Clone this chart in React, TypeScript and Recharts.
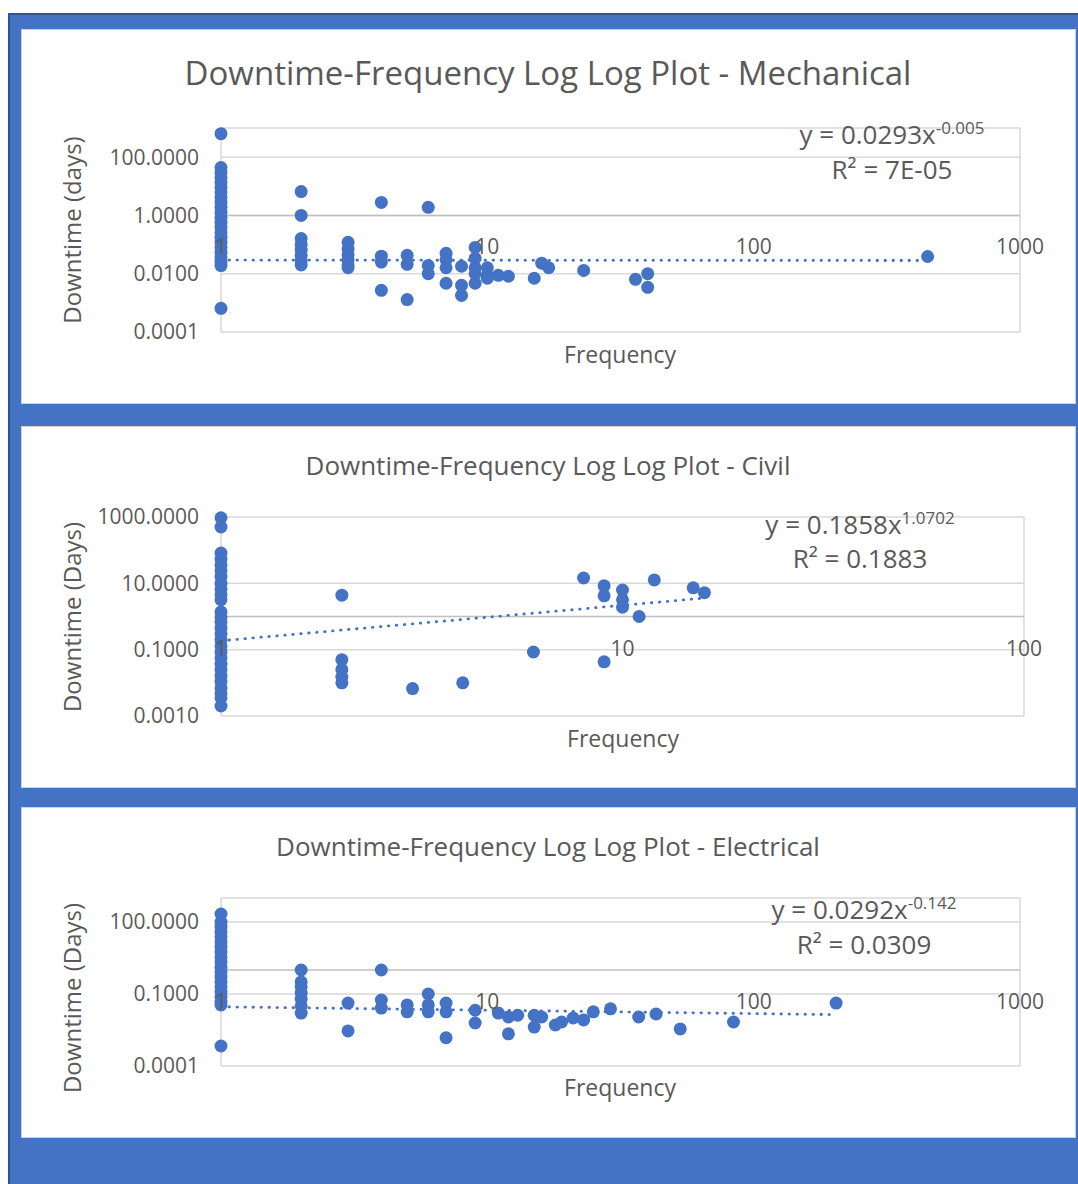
import { ScatterChart, Scatter, XAxis, YAxis, CartesianGrid, ReferenceLine } from 'recharts'

const BLUE = '#4472c4'
const GRID = '#d9d9d9'
const TEXT = '#595959'
const FONT = '"Open Sans", sans-serif'

// downtime readings (days) grouped by frequency
const mechanicalData: [number, number[]][] = [
  [1, [640, 44, 30, 20, 13.5, 9.1, 6.1, 4.1, 2.8, 1.9, 1.27, 0.85, 0.58, 0.39, 0.26, 0.18, 0.12, 0.08, 0.054, 0.036, 0.025, 0.019, 0.00065]],
  [2, [6.6, 1.0, 0.16, 0.1, 0.065, 0.042, 0.028, 0.02]],
  [3, [0.12, 0.07, 0.045, 0.03, 0.02, 0.016]],
  [4, [2.8, 0.04, 0.025, 0.0027]],
  [5, [0.043, 0.021, 0.0013]],
  [6, [1.9, 0.019, 0.01]],
  [7, [0.05, 0.03, 0.016, 0.0047]],
  [8, [0.018, 0.004, 0.0018]],
  [9, [0.08, 0.034, 0.016, 0.01, 0.0047]],
  [10, [0.016, 0.0088, 0.007]],
  [11, [0.0088]],
  [12, [0.0082]],
  [15, [0.007]],
  [16, [0.023]],
  [17, [0.016]],
  [23, [0.013]],
  [36, [0.0064]],
  [40, [0.01, 0.0034]],
  [450, [0.039]],
]
const mechanicalTrend = [{ x: 1, y: 0.0293 }, { x: 450, y: 0.0284 }]
const mechanicalXTicks = [1, 10, 100, 1000]
const mechanicalYTicks = [0.0001, 0.01, 1, 100]

const civilData: [number, number[]][] = [
  [1, [950, 500, 82, 54, 36, 24, 16, 10, 6.8, 4.5, 3.2, 1.37, 0.97, 0.69, 0.45, 0.3, 0.2, 0.13, 0.085, 0.057, 0.037, 0.025, 0.016, 0.011, 0.007, 0.0047, 0.0035, 0.002]],
  [2, [4.4, 0.05, 0.025, 0.015, 0.01]],
  [3, [0.0067]],
  [4, [0.01]],
  [6, [0.085]],
  [8, [14.5]],
  [9, [8.4, 4.2, 0.043]],
  [10, [6.3, 3.2, 1.9]],
  [11, [1.0]],
  [12, [12.7]],
  [15, [7.3]],
  [16, [5.2]],
]
const civilTrend = [{ x: 1, y: 0.1858 }, { x: 16, y: 3.6 }]
const civilXTicks = [1, 10, 100]
const civilYTicks = [0.001, 0.1, 10, 1000]

const electricalData: [number, number[]][] = [
  [1, [215, 100, 62, 38, 24, 15, 9.1, 5.6, 3.5, 2.2, 1.3, 0.83, 0.51, 0.32, 0.2, 0.12, 0.075, 0.046, 0.035, 0.00068]],
  [2, [1.0, 0.32, 0.2, 0.11, 0.062, 0.032, 0.016]],
  [3, [0.042, 0.0029]],
  [4, [1.0, 0.056, 0.026]],
  [5, [0.035, 0.018]],
  [6, [0.1, 0.035, 0.018]],
  [7, [0.042, 0.018, 0.0015]],
  [9, [0.021, 0.0062]],
  [11, [0.016]],
  [12, [0.011, 0.0022]],
  [13, [0.013]],
  [15, [0.013, 0.0042]],
  [16, [0.011]],
  [18, [0.0051]],
  [19, [0.0068]],
  [21, [0.01]],
  [23, [0.0083]],
  [25, [0.018]],
  [29, [0.024]],
  [37, [0.011]],
  [43, [0.0147]],
  [53, [0.0035]],
  [84, [0.0068]],
  [204, [0.042]],
]
const electricalTrend = [{ x: 1, y: 0.0292 }, { x: 200, y: 0.0138 }]
const electricalXTicks = [1, 10, 100, 1000]
const electricalYTicks = [0.0001, 0.1, 100]

const toPoints = (groups: [number, number[]][]) =>
  groups.flatMap(([x, ys]) => ys.map((y) => ({ x, y })))

const Dot = (p: any) => <circle cx={p.cx} cy={p.cy} r={6.5} fill={BLUE} />

const TickText = (p: any) => (
  <text x={p.cx} y={p.cy + 39} textAnchor="middle" fill={TEXT} fontSize={21} fontFamily={FONT}>
    {p.payload?.x}
  </text>
)

function Txt({ x, y, size, rotate, children }: any) {
  return (
    <div
      style={{
        position: 'absolute',
        left: x,
        top: y,
        transform: `translate(-50%, -50%)${rotate ? ' rotate(-90deg)' : ''}`,
        whiteSpace: 'nowrap',
        fontSize: size,
        color: TEXT,
        fontFamily: FONT,
        lineHeight: 1.2,
      }}
    >
      {children}
    </div>
  )
}

function Panel(props: any) {
  const { top, height, plot, data, trend, xTicks, yTicks, yDomain, xDomain } = props
  const tickPoints = xTicks.map((t: number) => ({ x: t, y: 1 }))
  return (
    <div
      style={{
        position: 'absolute',
        left: 22,
        top,
        width: 1053,
        height,
        background: '#fff',
        boxShadow: '0 0 0 1px #d0d0d0',
      }}
    >
      <ScatterChart width={1053} height={height} margin={{ top: plot.top, right: plot.right, bottom: height - plot.bottom, left: 0 }}>
        <CartesianGrid stroke={GRID} strokeWidth={1.5} />
        <XAxis
          type="number"
          dataKey="x"
          scale="log"
          domain={xDomain}
          ticks={xTicks}
          tick={false}
          axisLine={false}
          tickLine={false}
          height={0}
        />
        <YAxis
          type="number"
          dataKey="y"
          scale="log"
          domain={yDomain}
          ticks={yTicks}
          width={199}
          axisLine={false}
          tickLine={false}
          tickMargin={16}
          tickFormatter={(v: number) => v.toFixed(4)}
          tick={{ fill: TEXT, fontSize: 21, fontFamily: FONT }}
        />
        <ReferenceLine y={1} stroke="#bfbfbf" strokeWidth={1.5} />
        <Scatter data={toPoints(data)} isAnimationActive={false} shape={Dot} />
        <ReferenceLine segment={trend} stroke={BLUE} strokeWidth={2.8} strokeDasharray="0.5 7.5" strokeLinecap="round" />
        <Scatter data={tickPoints} isAnimationActive={false} shape={TickText} />
      </ScatterChart>
      <Txt x={props.titlePos[0]} y={props.titlePos[1]} size={props.titleSize}>{props.title}</Txt>
      <Txt x={50} y={props.yTitleY} size={24} rotate>{props.yTitle}</Txt>
      <Txt x={props.xTitlePos[0]} y={props.xTitlePos[1]} size={23}>Frequency</Txt>
      <Txt x={props.eqPos[0]} y={props.eqPos[1]} size={26}>
        y = {props.eq[0]}x<sup style={{ fontSize: 17 }}>{props.eq[1]}</sup>
      </Txt>
      <Txt x={props.eqPos[0]} y={props.eqPos[2]} size={26}>R² = {props.eq[2]}</Txt>
    </div>
  )
}

export default function App() {
  return (
    <div style={{ position: 'absolute', left: 0, top: 0, width: 1078, height: 1184, overflow: 'hidden', background: '#fff' }}>
      <div
        style={{
          position: 'absolute',
          left: 8,
          top: 13,
          width: 1070,
          height: 1171,
          background: BLUE,
          borderTop: '2px solid #2f5597',
          borderLeft: '2px solid #2f5597',
          boxSizing: 'border-box',
        }}
      />
      <Panel
        top={30}
        height={373}
        plot={{ top: 98, right: 55, bottom: 302 }}
        data={mechanicalData}
        trend={mechanicalTrend}
        xTicks={mechanicalXTicks}
        yTicks={mechanicalYTicks}
        xDomain={[1, 1000]}
        yDomain={[0.0001, 1000]}
        title="Downtime-Frequency Log Log Plot - Mechanical"
        titleSize={33}
        titlePos={[526, 43]}
        yTitle="Downtime (days)"
        yTitleY={200}
        xTitlePos={[598, 325]}
        eq={['0.0293', '-0.005', '7E-05']}
        eqPos={[870, 104, 140]}
      />
      <Panel
        top={427}
        height={360}
        plot={{ top: 90, right: 51, bottom: 289 }}
        data={civilData}
        trend={civilTrend}
        xTicks={civilXTicks}
        yTicks={civilYTicks}
        xDomain={[1, 100]}
        yDomain={[0.001, 1000]}
        title="Downtime-Frequency Log Log Plot - Civil"
        titleSize={26}
        titlePos={[526, 39]}
        yTitle="Downtime (Days)"
        yTitleY={190}
        xTitlePos={[601, 312]}
        eq={['0.1858', '1.0702', '0.1883']}
        eqPos={[838, 97, 132]}
      />
      <Panel
        top={808}
        height={329}
        plot={{ top: 90, right: 55, bottom: 258 }}
        data={electricalData}
        trend={electricalTrend}
        xTicks={electricalXTicks}
        yTicks={electricalYTicks}
        xDomain={[1, 1000]}
        yDomain={[0.0001, 1000]}
        title="Downtime-Frequency Log Log Plot - Electrical"
        titleSize={26}
        titlePos={[526, 39]}
        yTitle="Downtime (Days)"
        yTitleY={190}
        xTitlePos={[598, 280]}
        eq={['0.0292', '-0.142', '0.0309']}
        eqPos={[842, 101, 137]}
      />
    </div>
  )
}
